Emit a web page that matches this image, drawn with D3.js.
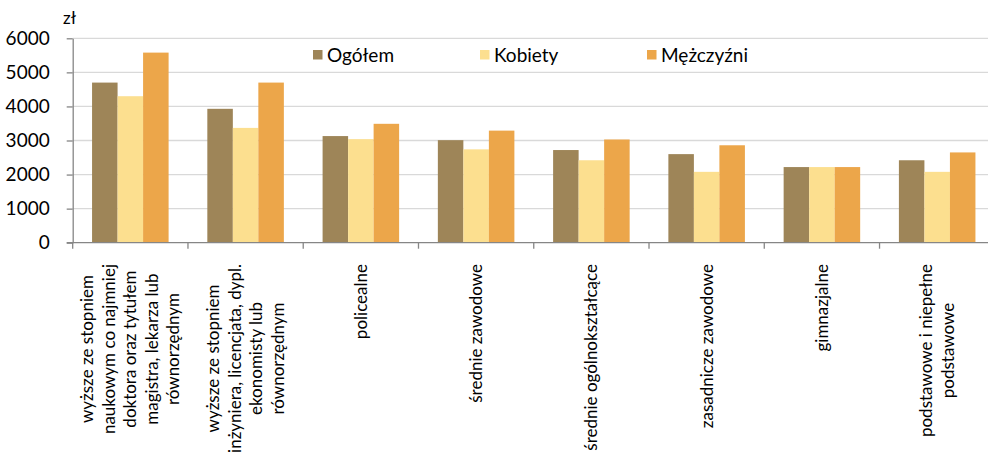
<!DOCTYPE html>
<html>
<head>
<meta charset="utf-8">
<script src="https://cdn.jsdelivr.net/npm/d3@7"></script>
<style>
  body { margin: 0; background: #fff; }
  svg { display: block; font-family: Lato, "Open Sans", sans-serif; }
</style>
</head>
<body>
<svg width="988" height="460"></svg>
<script>
const width = 988, height = 460;

// data
const categories = [
    ["wyższe ze stopniem", "naukowym co najmniej", "doktora oraz tytułem", "magistra, lekarza lub", "równorzędnym"],
    ["wyższe ze stopniem", "inżyniera, licencjata, dypl.", "ekonomisty lub", "równorzędnym"],
    ["policealne"],
    ["średnie zawodowe"],
    ["średnie ogólnokształcące"],
    ["zasadnicze zawodowe"],
    ["gimnazjalne"],
    ["podstawowe i niepełne", "podstawowe"]
];
const series = ["Ogółem", "Kobiety", "Mężczyźni"];
const seriesColor = ["#9e8558", "#fcdf8f", "#eca64a"];
const ogolem    = [4700, 3930, 3130, 3010, 2720, 2600, 2220, 2420];
const kobiety   = [4300, 3370, 3040, 2740, 2420, 2080, 2220, 2080];
const mezczyzni = [5580, 4700, 3490, 3290, 3030, 2860, 2220, 2650];
const yTicks = [0, 1000, 2000, 3000, 4000, 5000, 6000];

const values = [ogolem, kobiety, mezczyzni];
const rows = categories.map((c, i) => ({
    idx: i,
    vals: series.map((s, j) => ({ key: s, value: values[j][i] }))
}));

const margin = {left: 72.7, top: 38.3, bottom: 242.7, right: 994.8};

const svg = d3.select("svg");

const y = d3.scaleLinear()
    .domain([0, 6000])
    .range([margin.bottom, margin.top]);

const x0 = d3.scaleBand()
    .domain(d3.range(categories.length))
    .range([margin.left, margin.right])
    .padding(0);

const x1 = d3.scaleBand()
    .domain(series)
    .range([x0.bandwidth() * 0.168, x0.bandwidth() * 0.832])
    .padding(0);

const color = d3.scaleOrdinal().domain(series).range(seriesColor);

// grid lines
svg.append("g")
    .selectAll("line")
    .data(yTicks.filter(d => d > 0))
    .join("line")
        .attr("x1", margin.left)
        .attr("x2", width)
        .attr("y1", d => y(d))
        .attr("y2", d => y(d))
        .attr("stroke", "#d9d9d9")
        .attr("stroke-width", 1.3);

// bars
svg.append("g")
    .selectAll("g")
    .data(rows)
    .join("g")
        .attr("transform", d => `translate(${x0(d.idx)},0)`)
    .selectAll("rect")
    .data(d => d.vals)
    .join("rect")
        .attr("x", d => x1(d.key))
        .attr("y", d => y(d.value))
        .attr("width", x1.bandwidth())
        .attr("height", d => y(0) - y(d.value))
        .attr("fill", d => color(d.key));

// y axis
const yAxis = svg.append("g")
    .attr("transform", `translate(${margin.left},0)`)
    .call(d3.axisLeft(y).tickValues(yTicks).tickFormat(d3.format("d"))
        .tickSize(6).tickSizeOuter(0).tickPadding(17));
yAxis.select(".domain").attr("stroke", "#868686").attr("stroke-width", 1.3);
yAxis.selectAll(".tick line").attr("stroke", "#868686").attr("stroke-width", 1.3);
yAxis.selectAll("text")
    .attr("fill", "#000")
    .style("font-size", "19px")
    .style("font-family", "Lato, sans-serif");

// x axis line and boundary ticks
svg.append("line")
    .attr("x1", margin.left - 6)
    .attr("x2", width)
    .attr("y1", y(0))
    .attr("y2", y(0))
    .attr("stroke", "#868686")
    .attr("stroke-width", 1.3);

svg.append("g")
    .selectAll("line")
    .data(d3.range(categories.length))
    .join("line")
        .attr("x1", d => x0(d))
        .attr("x2", d => x0(d))
        .attr("y1", y(0))
        .attr("y2", y(0) + 6)
        .attr("stroke", "#868686")
        .attr("stroke-width", 1.3);

// unit label
svg.append("text")
    .attr("x", 63)
    .attr("y", 24)
    .text("zł")
    .style("font-size", "17px");

// x labels (rotated, multi-line)
const lineH = 21.5;
const labelTop = 264;
const labels = svg.append("g")
    .selectAll("g")
    .data(categories)
    .join("g")
        .attr("transform", (d, i) => `translate(${x0(i) + x0.bandwidth() / 2},${labelTop}) rotate(-90)`);

labels.each(function(lines) {
    const g = d3.select(this);
    const n = lines.length;
    const t = g.selectAll("text")
        .data(lines)
        .join("text")
            .attr("y", (d, i) => (i - (n - 1) / 2) * lineH)
            .attr("dy", "0.35em")
            .attr("text-anchor", "middle")
            .style("font-size", "17px")
            .text(d => d);
    let maxW = 0;
    t.each(function() { maxW = Math.max(maxW, this.getComputedTextLength()); });
    t.attr("x", -maxW / 2);
});

// legend
const legendX = [313, 480, 647];
const legend = svg.append("g")
    .selectAll("g")
    .data(series)
    .join("g")
        .attr("transform", (d, i) => `translate(${legendX[i]},50)`);

legend.append("rect")
    .attr("width", 9.5)
    .attr("height", 9.5)
    .attr("fill", d => color(d));

legend.append("text")
    .attr("x", 14)
    .attr("y", 5)
    .attr("dy", "0.35em")
    .style("font-size", "19px")
    .text(d => d);
</script>
</body>
</html>
